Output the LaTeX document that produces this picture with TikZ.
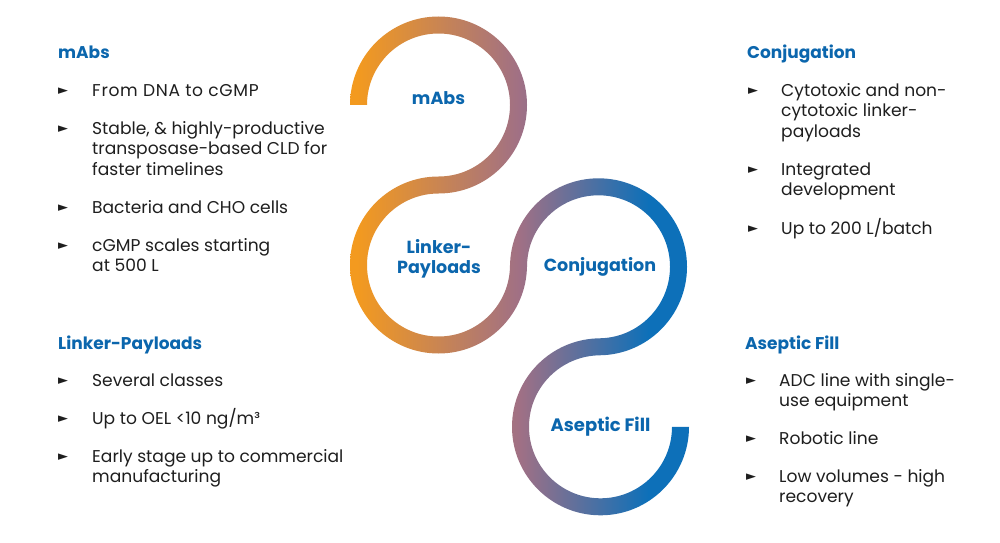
\documentclass[tikz,border=0pt]{standalone}
\usepackage{fontspec}
\setmainfont{Poppins}
\newfontfamily\bulletfont{DejaVu Sans}
\definecolor{headblue}{HTML}{0B66AD}
\definecolor{bodyink}{HTML}{1E1E1E}
\definecolor{ribO}{HTML}{F39A1F}
\definecolor{ribM}{HTML}{A07085}
\definecolor{ribB}{HTML}{0D70B9}
\pgfdeclarehorizontalshading{ribbonfade}{100bp}{color(0bp)=(ribO); color(26bp)=(ribO); color(50bp)=(ribM); color(69bp)=(ribB); color(100bp)=(ribB)}
\tikzset{
  head/.style={anchor=base west,inner sep=0pt,text=headblue,font=\fontsize{17}{20}\selectfont\bfseries},
  hub/.style={inner sep=0pt,text=headblue,align=center,font=\fontsize{17.5}{20.5}\selectfont\bfseries},
  item/.style={anchor=north west,inner sep=0pt,text=bodyink,align=left,font=\fontsize{17.1}{20.5}\selectfont},
  tick/.style={anchor=center,inner sep=0pt,text=bodyink,yshift=-1pt,font=\fontsize{13}{13}\selectfont\bulletfont}
}
\newcommand{\lead}{\rule{0pt}{18pt}}
\begin{document}
\begin{tikzpicture}[x=1pt,y=1pt]
\useasboundingbox (0,0) rectangle (1000,542);
\path[shading=ribbonfade]
  (350,437) arc (180:-90:88.5)
  arc (90:360:71.5)
  -- (510,275.2)
  arc (180:-90:88.5)
  -- (600.5,186.7)
  arc (90:360:71.5)
  -- (689,115.2)
  arc (360:90:88.5)
  -- (598.5,203.7)
  arc (-90:180:71.5)
  -- (527,277)
  arc (360:90:88.5)
  arc (-90:180:71.5)
  -- cycle;
\begin{scope}[yshift=542pt,y=-1pt]
\node[hub] (hubA) at (438.5,98) {mAbs};
\node[hub] (hubB) at (439,259) {Linker-\\Payloads};
\node[hub] (hubC) at (600,267) {Conjugation};
\node[hub,font=\fontsize{18}{20.5}\selectfont\bfseries] (hubD) at (600.5,427) {Aseptic Fill};

\node[head] (hA) at (58,59) {mAbs};
\node[tick] (tA1) at (63,90) {►};
\node[item] (iA1) at (92,78) {\lead\addfontfeature{LetterSpace=4}From DNA to cGMP};
\node[tick] (tA2) at (63,128) {►};
\node[item] (iA2) at (92,116) {\lead Stable, \& highly-productive\\transposase-based CLD for\\faster timelines};
\node[tick] (tA3) at (63,207) {►};
\node[item] (iA3) at (92,195) {\lead Bacteria and CHO cells};
\node[tick] (tA4) at (63,245) {►};
\node[item] (iA4) at (92,233) {\lead cGMP scales starting\\at 500 L};

\node[head] (hB) at (58,349) {Linker-Payloads};
\node[tick] (tB1) at (63,380) {►};
\node[item] (iB1) at (92,368) {\lead Several classes};
\node[tick] (tB2) at (63,418) {►};
\node[item] (iB2) at (92,406) {\lead Up to OEL <10 ng/m³};
\node[tick] (tB3) at (63,456) {►};
\node[item] (iB3) at (92,444) {\lead Early stage up to commercial\\manufacturing};

\node[head] (hC) at (747,59) {Conjugation};
\node[tick] (tC1) at (753,90) {►};
\node[item] (iC1) at (781,78) {\lead Cytotoxic and non-\\cytotoxic linker-\\payloads};
\node[tick] (tC2) at (753,169) {►};
\node[item] (iC2) at (781,157) {\lead Integrated\\development};
\node[tick] (tC3) at (753,228) {►};
\node[item] (iC3) at (781,216) {\lead Up to 200 L/batch};

\node[head] (hD) at (745,349) {Aseptic Fill};
\node[tick] (tD1) at (751,380) {►};
\node[item] (iD1) at (779,368) {\lead ADC line with single-\\use equipment};
\node[tick] (tD2) at (751,438) {►};
\node[item] (iD2) at (779,426) {\lead Robotic line};
\node[tick] (tD3) at (751,476) {►};
\node[item] (iD3) at (779,464) {\lead Low volumes - high\\recovery};
\end{scope}
\end{tikzpicture}
\end{document}
